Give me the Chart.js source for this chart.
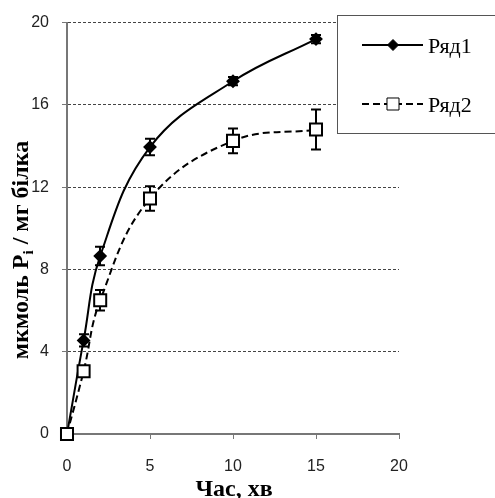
<!DOCTYPE html>
<html>
<head>
<meta charset="utf-8">
<script src="https://cdn.jsdelivr.net/npm/chart.js@4"></script>
<style>
  body { margin: 0; background: #fff; }
</style>
</head>
<body>
<canvas id="chart" width="495" height="498"></canvas>
<script>
// data
const times = [0, 1, 2, 5, 10, 15];
const series1 = [0, 4.55, 8.65, 13.95, 17.15, 19.2];
const series1Err = [0, 0.3, 0.45, 0.4, 0.2, 0.2];
const series2 = [0, 3.05, 6.5, 11.45, 14.25, 14.8];
const series2Err = [0, 0, 0.5, 0.6, 0.6, 0.97];
const seriesNames = ['Ряд1', 'Ряд2'];
const xTicks = [0, 5, 10, 15, 20];
const yTicks = [0, 4, 8, 12, 16, 20];
const xTitle = 'Час, хв';
const yTitleParts = ['мкмоль P', 'i', ' / мг білка'];

const toPoints = (ys) => times.map((t, i) => ({ x: t, y: ys[i] }));

// error bars, drawn under the markers
const errorBars = {
  id: 'errorBars',
  beforeDatasetsDraw(chart) {
    const { ctx, scales: { x, y } } = chart;
    ctx.save();
    ctx.strokeStyle = '#000';
    ctx.lineWidth = 2;
    ctx.setLineDash([]);
    chart.data.datasets.forEach(ds => {
      ds.errors.forEach((e, i) => {
        if (!e) return;
        const px = Math.round(x.getPixelForValue(ds.data[i].x));
        const top = y.getPixelForValue(ds.data[i].y + e);
        const bot = y.getPixelForValue(ds.data[i].y - e);
        ctx.beginPath();
        ctx.moveTo(px, top); ctx.lineTo(px, bot);
        ctx.moveTo(px - 5, top); ctx.lineTo(px + 5, top);
        ctx.moveTo(px - 5, bot); ctx.lineTo(px + 5, bot);
        ctx.stroke();
      });
    });
    ctx.restore();
  }
};

function drawMarker(ctx, ds, x, y) {
  ctx.setLineDash([]);
  ctx.lineWidth = 1;
  ctx.fillStyle = ds.pointBackgroundColor;
  ctx.strokeStyle = ds.pointBorderColor;
  const r = ds.pointRadius;
  ctx.beginPath();
  if (ds.pointStyle === 'rectRot') {
    ctx.moveTo(x, y - r); ctx.lineTo(x + r, y); ctx.lineTo(x, y + r); ctx.lineTo(x - r, y);
  } else {
    const s = r * Math.SQRT1_2;
    ctx.rect(x - s, y - s, 2 * s, 2 * s);
  }
  ctx.closePath();
  ctx.fill();
  ctx.stroke();
}

// framed legend on the right plus the axis titles
const decorations = {
  id: 'decorations',
  afterDraw(chart) {
    const ctx = chart.ctx;
    ctx.save();
    // legend box
    ctx.fillStyle = '#fff';
    ctx.fillRect(337.5, 15.5, 170, 118);
    ctx.strokeStyle = '#555';
    ctx.lineWidth = 1;
    ctx.strokeRect(337.5, 15.5, 170, 118);
    const rows = [45, 104];
    chart.data.datasets.forEach((ds, i) => {
      const yy = rows[i];
      ctx.strokeStyle = ds.borderColor;
      ctx.lineWidth = ds.borderWidth;
      ctx.setLineDash(ds.borderDash || []);
      ctx.beginPath();
      ctx.moveTo(362, yy); ctx.lineTo(423, yy);
      ctx.stroke();
      drawMarker(ctx, ds, 393, yy);
      ctx.fillStyle = '#000';
      ctx.font = '22px "Liberation Serif"';
      ctx.textAlign = 'left';
      ctx.textBaseline = 'middle';
      ctx.fillText(ds.label, 428, yy + 2);
    });

    // x title
    ctx.fillStyle = '#000';
    ctx.font = 'bold 24px "Liberation Serif"';
    ctx.textAlign = 'center';
    ctx.textBaseline = 'alphabetic';
    ctx.fillText(xTitle, 234, 496);

    // y title with subscript
    const big = 'bold 24px "Liberation Serif"';
    const small = 'bold 15px "Liberation Serif"';
    ctx.font = big;
    const w0 = ctx.measureText(yTitleParts[0]).width;
    const w2 = ctx.measureText(yTitleParts[2]).width;
    ctx.font = small;
    const w1 = ctx.measureText(yTitleParts[1]).width;
    const total = w0 + w1 + w2;
    ctx.translate(28, 250);
    ctx.rotate(-Math.PI / 2);
    ctx.textAlign = 'left';
    let cx = -total / 2;
    ctx.font = big;
    ctx.fillText(yTitleParts[0], cx, 0);
    cx += w0;
    ctx.font = small;
    ctx.fillText(yTitleParts[1], cx, 5);
    cx += w1;
    ctx.font = big;
    ctx.fillText(yTitleParts[2], cx, 0);
    ctx.restore();
  }
};

const bgWhite = {
  id: 'bgWhite',
  beforeDraw(chart) {
    const ctx = chart.ctx;
    ctx.save();
    ctx.fillStyle = '#fff';
    ctx.fillRect(0, 0, chart.width, chart.height);
    ctx.restore();
  }
};

const tickFont = { family: '"Liberation Sans", Arial', size: 16 };

new Chart(document.getElementById('chart'), {
  type: 'scatter',
  data: {
    datasets: [
      {
        label: seriesNames[0],
        data: toPoints(series1),
        errors: series1Err,
        showLine: true,
        clip: false,
        borderColor: '#000',
        borderWidth: 2,
        tension: 0.4,
        pointStyle: 'rectRot',
        pointRadius: 5.5,
        pointBackgroundColor: '#000',
        pointBorderColor: '#000',
        order: 1
      },
      {
        label: seriesNames[1],
        data: toPoints(series2),
        errors: series2Err,
        showLine: true,
        clip: false,
        borderColor: '#000',
        borderWidth: 2,
        borderDash: [7, 4],
        tension: 0.4,
        pointStyle: 'rect',
        pointRadius: 8.5,
        pointBackgroundColor: '#fff',
        pointBorderColor: '#000',
        order: 0
      }
    ]
  },
  options: {
    responsive: false,
    animation: false,
    layout: { padding: { left: 0, top: 20, right: 96, bottom: 0 } },
    plugins: {
      legend: { display: false },
      tooltip: { enabled: false }
    },
    scales: {
      x: {
        type: 'linear',
        min: 0,
        max: 20,
        afterBuildTicks: (s) => { s.ticks = xTicks.map(v => ({ value: v })); },
        afterFit: (s) => { s.height = 64; },
        ticks: { font: tickFont, color: '#222', padding: 18, maxRotation: 0 },
        grid: { drawOnChartArea: false, drawTicks: true, tickLength: 5, tickColor: '#777', tickWidth: 1 },
        border: { display: true, color: '#777', width: 2 }
      },
      y: {
        min: 0,
        max: 20,
        afterBuildTicks: (s) => { s.ticks = yTicks.map(v => ({ value: v })); },
        afterFit: (s) => { s.width = 67; },
        ticks: { font: tickFont, color: '#222', padding: 13 },
        grid: {
          color: (c) => c.tick && c.tick.value === 0 ? 'rgba(0,0,0,0)' : '#444',
          lineWidth: 1,
          tickLength: 5,
          tickColor: '#777',
          tickWidth: 1
        },
        border: { display: true, color: '#777', width: 2, dash: [3, 2] }
      }
    }
  },
  plugins: [bgWhite, errorBars, decorations]
});
</script>
</body>
</html>
